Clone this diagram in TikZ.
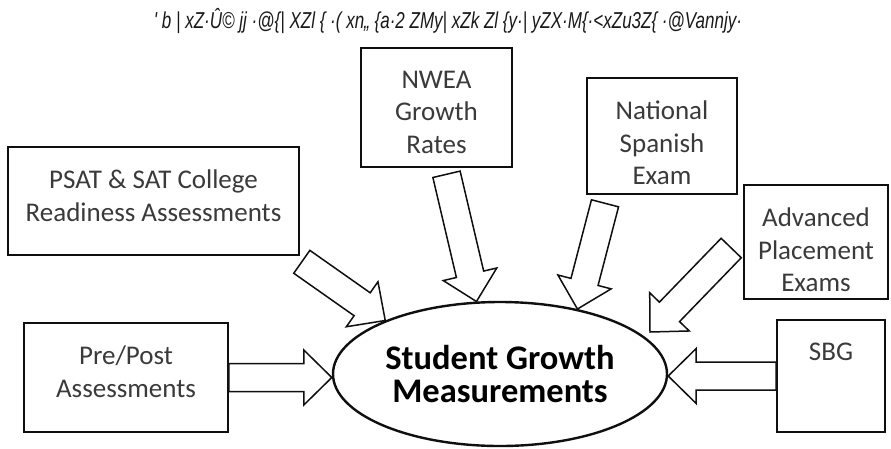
\documentclass[tikz,border=0pt]{standalone}
\usepackage{fontspec}
\setmainfont{Carlito}
\newfontfamily\garbledfont[FakeStretch=0.74]{Liberation Sans}
\usetikzlibrary{
    calc,
    shapes.geometric
}
\definecolor{ink}{RGB}{15,15,15}
\definecolor{boxtext}{RGB}{58,58,58}

% block arrow sizes
\newcommand{\shaftw}{14pt}
\newcommand{\headw}{27.5pt}
\newcommand{\headlen}{28pt}
% text hangs from the top of a fixed-size box
\newcommand{\boxlines}[3]{\parbox[c][#2][t]{#1}{\vspace*{23pt}\centering #3}}

\tikzset{
    line join=miter,
    sourcebox/.style={
        rectangle,
        draw=ink,
        line width=1.6pt,
        fill=white,
        inner sep=0pt,
        text=boxtext,
        font=\fontsize{27}{32.5}\selectfont
    },
    goal/.style={
        ellipse,
        draw=ink,
        line width=2.4pt,
        fill=white,
        inner sep=0pt,
        minimum width=334pt,
        minimum height=144pt,
        align=center,
        text=black,
        font=\fontsize{34.5}{33}\selectfont\bfseries
    },
    blockarrow/.style={
        draw=ink,
        line width=1.5pt,
        fill=white,
        to path={
            let \p1=(\tikztostart), \p2=(\tikztotarget),
                \n1={atan2(\y2-\y1,\x2-\x1)},
                \n2={veclen(\x2-\x1,\y2-\y1)-\headlen}
            in ($(\p1)+(\n1+90:\shaftw)$)
            -- ($(\p1)!\n2!(\p2)+(\n1+90:\shaftw)$)
            -- ($(\p1)!\n2!(\p2)+(\n1+90:\headw)$)
            -- (\p2)
            -- ($(\p1)!\n2!(\p2)+(\n1-90:\headw)$)
            -- ($(\p1)!\n2!(\p2)+(\n1-90:\shaftw)$)
            -- ($(\p1)+(\n1-90:\shaftw)$) -- cycle
        }
    },
    heading/.style={
        font=\garbledfont\itshape\fontsize{23}{26}\selectfont,
        text=black!90
    }
}

\begin{document}
\begin{tikzpicture}[x=1pt, y=-1pt]
\useasboundingbox (0,0) rectangle (891,448);

% heading line
\node[heading] (title) at (448,21) {' b | xZ·Û© jj ·@\{| XZl \{ ·( xn„ \{a·2 ZMy| xZk Zl \{y·| yZX·M\{·<xZu3Z\{ ·@Vannjy·};

% measurement sources
\node[sourcebox] (psat) at (153.5,201) {\boxlines{291pt}{108pt}{PSAT \& SAT College\\Readiness Assessments}};
\node[sourcebox] (pre)  at (126,377.5) {\boxlines{204pt}{109pt}{Pre/Post\\Assessments}};
\node[sourcebox] (nwea) at (436.5,107.5) {\boxlines{151pt}{119pt}{NWEA\\Growth\\Rates}};
\node[sourcebox] (nse)  at (662,136) {\boxlines{150pt}{116pt}{National\\Spanish\\Exam}};
\node[sourcebox] (ap)   at (816,242) {\boxlines{144pt}{114pt}{Advanced\\Placement\\Exams}};
\node[sourcebox] (sbg)  at (831,376) {\boxlines{108pt}{112pt}{SBG}};

% center
\node[goal] (growth) at (500,374) {Student Growth\\Measurements};

% arrow ends off the boxes
\coordinate (psat tail) at ($(psat.south east)+(2,6)$);
\coordinate (nwea tail) at ($(nwea.south)+(10,6.5)$);
\coordinate (nse tail)  at ($(nse.south)+(-57,8.5)$);
\coordinate (ap tail)   at ($(ap.west)+(-12,6)$);
\coordinate (ap tip)    at (650,332);

\draw[blockarrow] (psat tail) to (growth.155);
\draw[blockarrow] (nwea tail) to (growth.108);
\draw[blockarrow] (nse tail) to (growth.40);
\draw[blockarrow] (ap tail) to (ap tip);
\draw[blockarrow] (pre.east) to (growth.west |- pre.east);
\draw[blockarrow] (sbg.west) to (growth.east |- sbg.west);
\end{tikzpicture}
\end{document}
